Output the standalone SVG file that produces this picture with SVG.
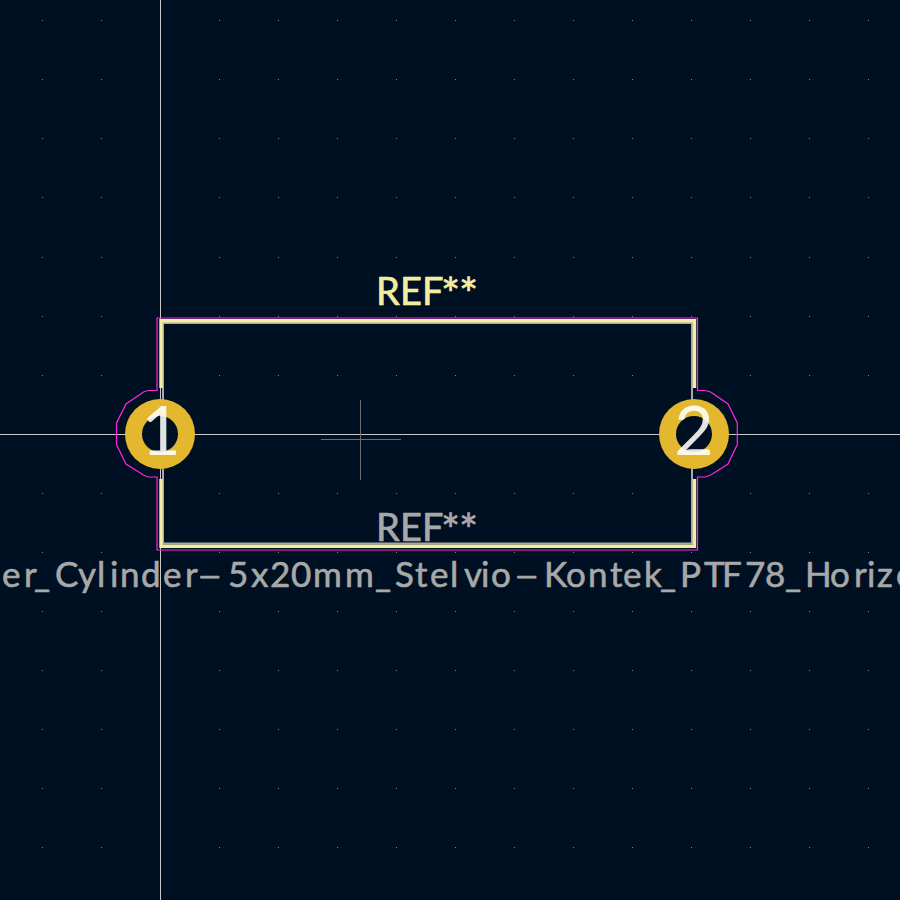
<svg xmlns="http://www.w3.org/2000/svg" width="900" height="900" viewBox="0 0 900 900">
<style>
.bg{fill:#001023}
.dot{fill:#78828c}
.cross{stroke:#c8c8c8;stroke-width:1;fill:none}
.anchor{stroke:#6e6e6e;stroke-width:1;fill:none}
.crt{stroke:#ff26e2;stroke-width:1.2;fill:none}
.silk{stroke:#f2eda1;stroke-width:3.4;fill:none}
.fab{stroke:#a8a8a8;stroke-width:2;fill:none}
.pad{fill:#e3b72e}
.hole{fill:#001023}
text{font-family:"Lato","Roboto","Liberation Sans",sans-serif;stroke-linejoin:round}
.ref{font-size:38px;fill:#f2eda1;stroke:#f2eda1;stroke-width:.7}
.fabt{font-size:38px;fill:#a8a8a8;stroke:#a8a8a8;stroke-width:.7}
.val{font-size:35px;fill:#a8a8a8;stroke:#a8a8a8;stroke-width:.6}
.star{font-size:45px}
.dash{font-size:27px;stroke-width:1.2}
.num{font-size:68px;fill:#fff;fill-opacity:.88;text-anchor:middle}
</style>
<defs>
<path id="row" d="M42 20h1v1h-1zM101 20h1v1h-1zM160 20h1v1h-1zM219 20h1v1h-1zM278 20h1v1h-1zM337 20h1v1h-1zM396 20h1v1h-1zM455 20h1v1h-1zM514 20h1v1h-1zM573 20h1v1h-1zM632 20h1v1h-1zM691 20h1v1h-1zM750 20h1v1h-1zM809 20h1v1h-1zM868 20h1v1h-1z"/>
</defs>
<rect class="bg" width="900" height="900"/>
<g id="grid" class="dot">
<use href="#row"/><use href="#row" y="59"/><use href="#row" y="118"/><use href="#row" y="177"/><use href="#row" y="237"/><use href="#row" y="296"/><use href="#row" y="355"/><use href="#row" y="414"/><use href="#row" y="473"/><use href="#row" y="532"/><use href="#row" y="591"/><use href="#row" y="650"/><use href="#row" y="709"/><use href="#row" y="768"/><use href="#row" y="827"/>
</g>
<g id="connectors">
<path class="cross" d="M160.500 0V900M0 434.500H900"/>
<path class="anchor" d="M360.500 400V480M321 439.500H401"/>
</g>
<g id="outline">
<rect class="fab" x="163" y="323" width="529" height="220.500"/>
<path class="silk" d="M161 388V320.700H694.500V388M161 479V546.300H694.500V479"/>
<path class="crt" d="M157 477H148L143.500 475L126 464L116.500 444.500V423L126 404L143.500 392L148 390.500H157V318H697.500V390.500H705L710.700 392L728 404L737.300 423V444.500L728 464L710.700 475L705 477H697.500V550H157Z"/>
</g>
<g id="pad1">
<circle class="pad" cx="160" cy="434" r="35"/>
<circle class="hole" cx="160" cy="434" r="18"/>
<text class="num" x="161" y="455">1</text>
</g>
<g id="pad2">
<circle class="pad" cx="694" cy="434" r="35"/>
<circle class="hole" cx="694" cy="434" r="18"/>
<text class="num" x="694" y="455">2</text>
</g>
<text id="ref" class="ref" y="304.500"><tspan x="376 400 422">REF</tspan><tspan class="star" dy="5" x="441 459">**</tspan></text>
<text id="fabref" class="fabt" y="541"><tspan x="376 400 422">REF</tspan><tspan class="star" dy="5" x="441 459">**</tspan></text>
<text id="value" class="val" y="587"><tspan x="2 24 34 55 78 97 110 120 141 163 185">er_Cylinder</tspan><tspan class="dash" x="199" dy="-2">—</tspan><tspan dy="2" x="228 251 270 291 313 345 375 395 415 430 450 464 481 491">5x20mm_Stelvio</tspan><tspan class="dash" x="516" dy="-2">—</tspan><tspan dy="2" x="544 566 588 610 623 644 660 680 704 722 745 765 785 805 830 854 867 877 896">Kontek_PTF78_Horizo</tspan></text>
</svg>
